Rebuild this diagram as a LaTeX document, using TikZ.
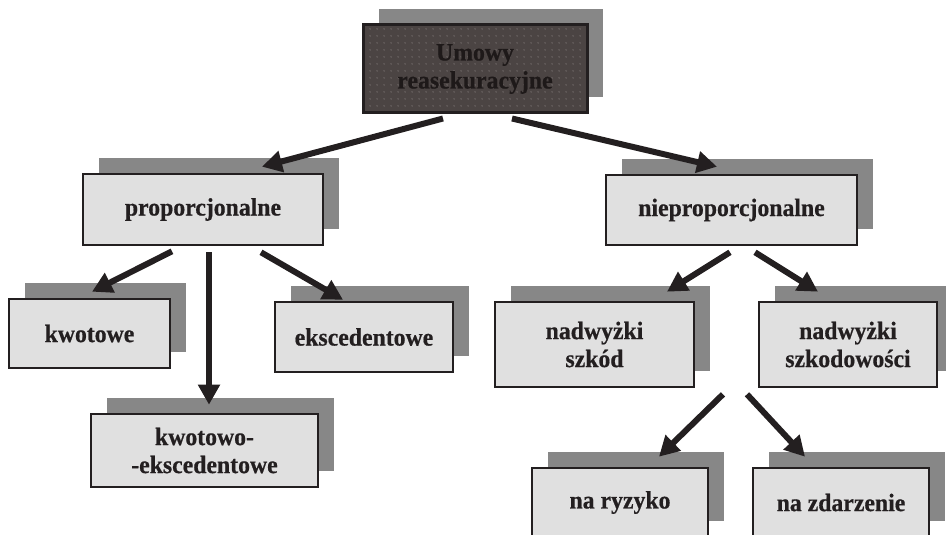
\documentclass[tikz,border=0pt]{standalone}
\usepackage{fontspec}
\setmainfont[BoldFeatures={FakeStretch=0.95, FakeBold=0.6}]{Liberation Serif}
\usetikzlibrary{arrows.meta,shadows,patterns.meta}

\definecolor{ink}{HTML}{231F20}
\definecolor{boxfill}{HTML}{E0E0E0}
\definecolor{shade}{HTML}{878787}
\definecolor{rootfill}{HTML}{4B4443}
\definecolor{rootdots}{HTML}{9C9694}
\definecolor{roottext}{HTML}{1E1919}

\begin{document}
\begin{tikzpicture}[x=1pt,y=-1pt,
  box/.style={rectangle, draw=ink, line width=2.6pt, fill=boxfill,
    align=center, inner sep=0pt, text=ink,
    font=\fontsize{25}{28}\selectfont\bfseries,
    drop shadow={shadow xshift=16pt, shadow yshift=16pt, fill=shade, opacity=1}},
  root/.style={box, fill=rootfill, line width=3pt,
    path picture={\fill[pattern={Dots[radius=0.6pt, distance=6.5pt]}, pattern color=rootdots]
      (path picture bounding box.south west) rectangle (path picture bounding box.north east);}},
  arr/.style={draw=ink, line width=6pt, -{Triangle[length=20pt, width=21pt]}}]

\useasboundingbox (0,0) rectangle (946,535);
\clip (0,0) rectangle (946,535);

% boxes
\node[root, minimum width=224pt, minimum height=88pt] (top) at (475,69)
  {\color{roottext}Umowy\\\color{roottext}reasekuracyjne};
\node[box, minimum width=240pt, minimum height=71pt] (prop) at (203,209.5) {proporcjonalne};
\node[box, minimum width=251pt, minimum height=70pt] (niep) at (731.5,210) {nieproporcjonalne};
\node[box, minimum width=161pt, minimum height=69pt] (kwot) at (89.5,333.5) {kwotowe};
\node[box, minimum width=178pt, minimum height=70pt] (eksc) at (364,337) {ekscedentowe};
\node[box, minimum width=227pt, minimum height=73pt] (kwek) at (204.5,450.5) {kwotowo-\\-ekscedentowe};
\node[box, minimum width=199pt, minimum height=85pt] (nsz) at (594.5,344.5) {nadwyżki\\szkód};
\node[box, minimum width=178pt, minimum height=85pt] (nszk) at (848,344.5) {nadwyżki\\szkodowości};
\node[box, minimum width=176pt, minimum height=69pt] (ryz) at (620,502.5) {na ryzyko};
\node[box, minimum width=176pt, minimum height=69pt] (zdarz) at (841,502.5) {na zdarzenie};

% connectors
\draw[arr] ([xshift=-32pt,yshift=-4pt]top.south) -- ([xshift=59pt,yshift=6pt]prop.north);
\draw[arr] ([xshift=37pt,yshift=-4pt]top.south) -- ([xshift=-14.5pt,yshift=7pt]niep.north);
\draw[arr] ([xshift=-31pt,yshift=-5pt]prop.south) -- ([xshift=2.5pt,yshift=6pt]kwot.north);
\draw[arr] ([xshift=6pt,yshift=-6pt]prop.south) -- ([xshift=4.5pt,yshift=8pt]kwek.north);
\draw[arr] ([xshift=58pt,yshift=-6pt]prop.south) -- ([xshift=-21pt,yshift=1pt]eksc.north);
\draw[arr] ([xshift=-1.5pt,yshift=-6pt]niep.south) -- ([xshift=72.5pt,yshift=9pt]nsz.north);
\draw[arr] ([xshift=23.5pt,yshift=-6pt]niep.south) -- ([xshift=-30pt,yshift=9pt]nszk.north);
\draw[arr] ([xshift=128.5pt,yshift=-6pt]nsz.south) -- ([xshift=39pt,yshift=10pt]ryz.north);
\draw[arr] ([xshift=152.5pt,yshift=-6pt]nsz.south) -- ([xshift=-36pt,yshift=10pt]zdarz.north);
\end{tikzpicture}
\end{document}
